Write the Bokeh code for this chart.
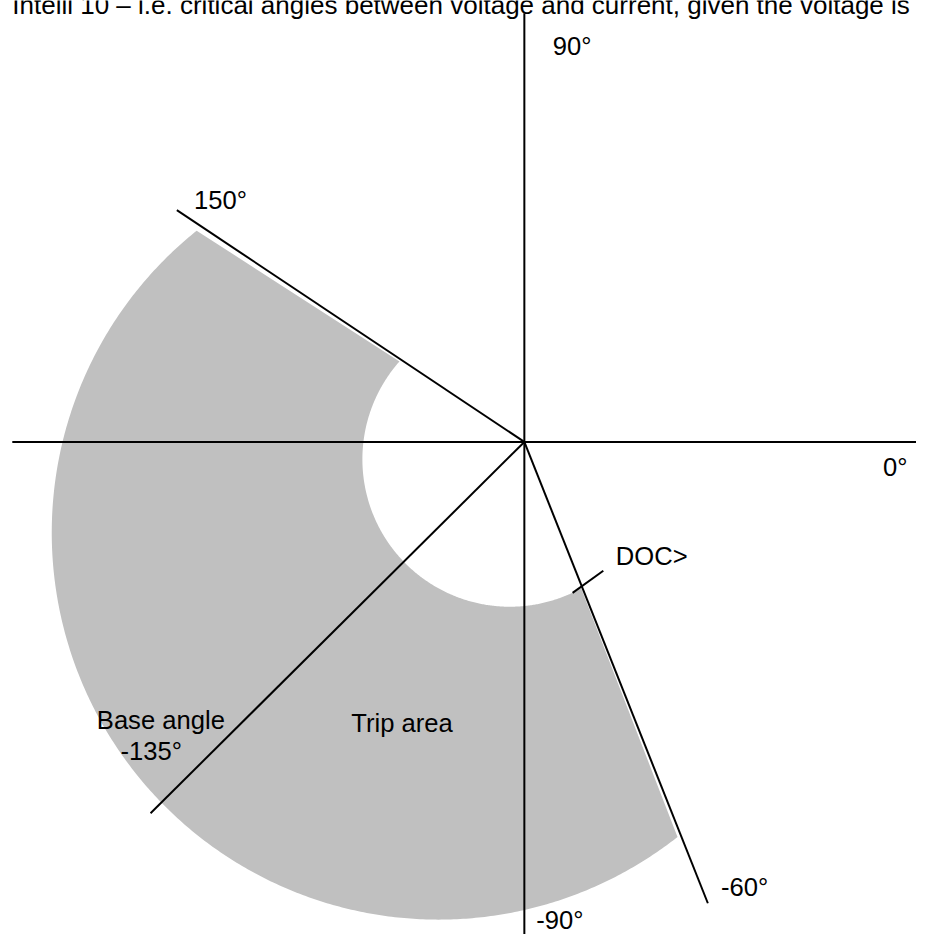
import numpy as np
from bokeh.plotting import figure
from bokeh.models import Range1d
from bokeh.embed import file_html
from bokeh.resources import INLINE
from bokeh.core.properties import value

# ---------------- data ----------------
# rays drawn from the origin (angle in degrees, length in diagram units)
ray_names = ["0°", "180°", "90°", "-90°", "150°", "base -135°", "-60°"]
ray_angles = [0.0, 180.0, 90.0, -90.0, 146.3, -135.2, -68.3]
ray_lengths = [420.0, 521.0, 436.0, 520.0, 425.0, 536.0, 505.0]

# trip area (annular sector) limits
trip_start_deg = 147.2
trip_end_deg = 291.2
# boundary circles: (offset distance, offset angle deg, radius)
outer_circle = (127.0, 226.6, 393.6)
inner_circle = (23.0, 230.0, 150.0)

# DOC> marker on the -60° ray
doc_radius = 158.0
doc_tick_angle = 35.7
doc_tick_back = 11.5
doc_tick_fwd = 27.0

# labels
label_texts = ["90°", "150°", "0°", "DOC>", "Base angle", "-135°", "Trip area", "-60°", "-90°"]
title_text = "Intelli 10 – i.e. critical angles between voltage and current, given the voltage is"

# ---------------- layout ----------------
# diagram drawn in a 932 x 950 unit space, origin of the diagram at (533, 449)
REF_W, REF_H = 932.0, 950.0
OX, OY = 533.0, 449.0
W, H = 916, 934
S = W / REF_W
TEXT_DY = 10.0  # baseline correction for the text glyph
label_sx = [562, 197, 898, 626, 98, 122, 357, 733, 545]
label_sy = [56, 213, 484, 575, 742, 773, 745, 912, 945]
title_sx, title_sy = 12, 15


def to_x(sx):
    return np.asarray(sx, dtype=float) - OX


def to_y(sy):
    return OY - np.asarray(sy, dtype=float)


p = figure(width=W, height=H,
           x_range=Range1d(0 - OX, REF_W - OX),
           y_range=Range1d(OY - REF_H, OY - 0),
           x_axis_type=None, y_axis_type=None,
           output_backend="svg", toolbar_location=None,
           min_border=0, border_fill_color="white",
           background_fill_color="white")
p.grid.visible = False
p.outline_line_color = None


def ray_circle(theta, circ):
    d, phi, R = circ
    a = theta - np.radians(phi)
    return d * np.cos(a) + np.sqrt(R ** 2 - (d * np.sin(a)) ** 2)


# trip area polygon
th = np.radians(np.linspace(trip_start_deg, trip_end_deg, 400))
r_out = ray_circle(th, outer_circle)
r_in = ray_circle(th, inner_circle)
px = np.concatenate([r_out * np.cos(th), (r_in * np.cos(th))[::-1]])
py = np.concatenate([r_out * np.sin(th), (r_in * np.sin(th))[::-1]])
p.patch(px, py, fill_color="#c0c0c0", line_color=None)

# rays
ang = np.radians(ray_angles)
L = np.array(ray_lengths)
p.segment(x0=np.zeros(len(L)), y0=np.zeros(len(L)),
          x1=L * np.cos(ang), y1=L * np.sin(ang),
          line_color="black", line_width=2)

# DOC> tick
a60 = np.radians(ray_angles[6])
cx, cy = doc_radius * np.cos(a60), doc_radius * np.sin(a60)
ta = np.radians(doc_tick_angle)
p.segment(x0=[cx - doc_tick_back * np.cos(ta)], y0=[cy - doc_tick_back * np.sin(ta)],
          x1=[cx + doc_tick_fwd * np.cos(ta)], y1=[cy + doc_tick_fwd * np.sin(ta)],
          line_color="black", line_width=2)

# labels
fs = "%.1fpx" % (26 * S)
p.text(x=to_x(label_sx), y=to_y(np.array(label_sy) - TEXT_DY), text=label_texts,
       text_font=value("Liberation Sans"), text_font_size=value(fs),
       text_color="black", text_align="left", text_baseline="alphabetic")

# (clipped) title line
p.text(x=to_x([title_sx]), y=to_y([title_sy - TEXT_DY]), text=[title_text],
       text_font=value("Liberation Sans"), text_font_size=value("%.1fpx" % (26.5 * S)),
       text_color="black", text_align="left", text_baseline="alphabetic")

open("out.html", "w").write(file_html(p, INLINE))
